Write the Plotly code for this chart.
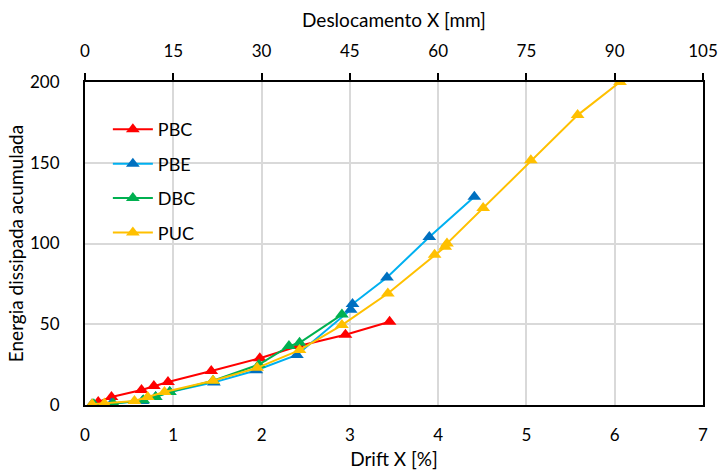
import plotly.graph_objects as go

# Drift X [%] and accumulated dissipated energy per series
pbc_x = [0.15, 0.30, 0.64, 0.78, 0.94, 1.43, 1.98, 2.42, 2.95, 3.45]
pbc_y = [1.9, 5.0, 9.3, 11.8, 14.2, 21.0, 29.0, 36.5, 43.5, 51.5]

pbe_x = [0.08, 0.30, 0.65, 0.80, 0.96, 1.46, 1.94, 2.40, 3.01, 3.03, 3.42, 3.90, 4.41]
pbe_y = [0.5, 1.0, 2.5, 5.0, 8.0, 14.0, 21.5, 31.0, 59.0, 62.5, 79.0, 104.0, 129.0]

dbc_x = [0.10, 0.32, 0.66, 0.80, 0.96, 1.45, 1.97, 2.31, 2.43, 2.91]
dbc_y = [0.5, 1.0, 3.0, 5.0, 8.0, 15.0, 25.0, 36.5, 38.5, 56.0]

puc_x = [0.08, 0.22, 0.56, 0.71, 0.90, 1.45, 1.95, 2.43, 2.91, 3.43, 3.96, 4.08, 4.10, 4.51, 5.05, 5.58, 6.06]
puc_y = [0.5, 1.0, 2.5, 5.0, 8.0, 15.0, 23.0, 34.0, 49.5, 69.0, 93.0, 98.0, 100.0, 122.0, 151.5, 179.5, 200.0]

series = [
    ("PBC", pbc_x, pbc_y, "#FF0000", "#FF0000"),
    ("PBE", pbe_x, pbe_y, "#00B0F0", "#0070C0"),
    ("DBC", dbc_x, dbc_y, "#00B050", "#00B050"),
    ("PUC", puc_x, puc_y, "#FFC000", "#FFC000"),
]

x_ticks = [0, 1, 2, 3, 4, 5, 6, 7]
mm_ticks = [0, 15, 30, 45, 60, 75, 90, 105]
y_ticks = [0, 50, 100, 150, 200]

FONT = "Lato"
TICKF = dict(family=FONT, size=17, color="#000000")
TITLEF = dict(family=FONT, size=19, color="#000000")

fig = go.Figure()
for name, xs, ys, lc, mc in series:
    fig.add_trace(go.Scatter(
        x=xs, y=ys, name=name, mode="lines+markers", legendgroup=name,
        line=dict(color=lc, width=2),
        marker=dict(symbol="triangle-up", size=12, color=mc),
    ))

# invisible trace to activate the top (mm) axis
fig.add_trace(go.Scatter(x=[0, 105], y=[None, None], xaxis="x2", showlegend=False,
                         hoverinfo="skip", mode="markers"))

fig.update_layout(
    width=719, height=470,
    margin=dict(l=85, r=16, t=82, b=65),
    paper_bgcolor="white", plot_bgcolor="white",
    font=dict(family=FONT, size=17, color="#000000"),
    showlegend=True,
    legend=dict(x=0.037, y=0.91, xanchor="left", yanchor="top",
                bgcolor="rgba(255,255,255,0)", font=dict(family=FONT, size=18),
                tracegroupgap=8, itemwidth=40),
    xaxis=dict(range=[0, 7], tickvals=x_ticks, showgrid=True, gridcolor="#D9D9D9",
               gridwidth=1.5, showline=True, linecolor="#000000", linewidth=2,
               mirror=False, zeroline=False, ticks="", ticklabelstandoff=14,
               automargin=False, tickfont=TICKF,
               title=dict(text="Drift X [%]", standoff=13, font=TITLEF)),
    xaxis2=dict(range=[0, 105], tickvals=mm_ticks, overlaying="x", side="top",
                showgrid=False, showline=True, linecolor="#000000", linewidth=2,
                ticks="outside", ticklen=7, tickwidth=1.5, tickcolor="#000000",
                zeroline=False, ticklabelstandoff=9, automargin=False, tickfont=TICKF,
                title=dict(text="Deslocamento X [mm]", standoff=8, font=TITLEF)),
    yaxis=dict(range=[0, 200], tickvals=y_ticks, showgrid=True, gridcolor="#D9D9D9",
               gridwidth=1.5, showline=True, linecolor="#000000", linewidth=2,
               mirror=True, zeroline=False, ticks="", ticklabelstandoff=20,
               automargin=False, tickfont=TICKF,
               title=dict(text="Energia dissipada acumulada", standoff=1, font=TITLEF)),
)

fig.write_html("out.html")
